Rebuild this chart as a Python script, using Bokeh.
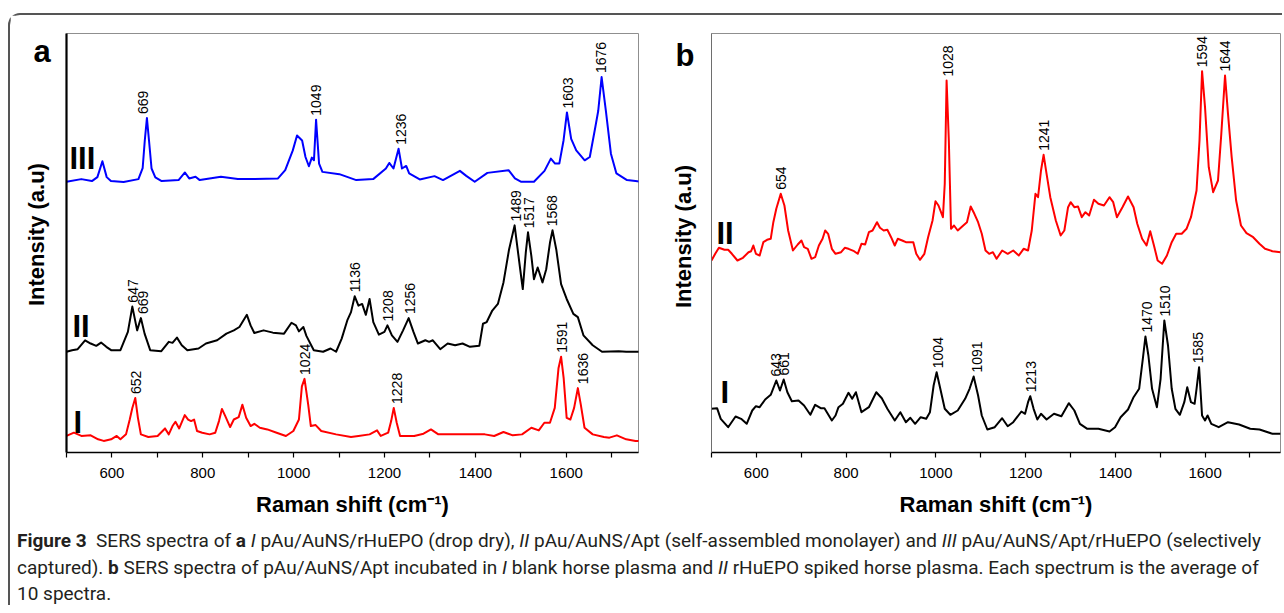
import numpy as np
from bokeh.plotting import figure
from bokeh.models import Range1d, FixedTicker, Div, ColumnDataSource
from bokeh.layouts import row, column
from bokeh.embed import file_html
from bokeh.resources import INLINE
from bokeh.core.properties import value

# ---------------- data (Raman shift in cm-1, intensity in a.u.) ----------------
# Panel a, spectrum III (blue)
a_III_x = [500, 532.6, 555.9, 568, 579, 588.5, 597.8, 625.7, 658.3, 667.6, 672.3, 677, 681.6, 687.2, 695.5, 709.5,
           746.7, 760.7, 770, 784, 793.3, 839.9, 877.1, 914.3, 965.5, 981.4, 998.1, 1007.4, 1018.6, 1026, 1033.5,
           1040, 1044.7, 1049.3, 1055.9, 1063.3, 1100.6, 1137.8, 1175, 1203, 1210.4, 1219.7, 1230.9, 1238.4, 1247.7,
           1254.2, 1277.5, 1310, 1328.7, 1365.9, 1379.9, 1398.5, 1426.4, 1473, 1487, 1501, 1528.9, 1552.1, 1566.1,
           1575.4, 1584.7, 1594, 1601.5, 1610.8, 1622, 1640.6, 1651.8, 1663.9, 1670.4, 1677.8, 1687.2, 1698.3,
           1710.4, 1733.7, 1752.3, 1768.2]
a_III_y = [273.3, 276, 274, 278, 294, 278, 274, 273, 276, 287, 315, 337.7, 315, 286.7, 277.7, 274, 275, 282.7,
           276.7, 278.3, 275, 278.3, 276, 276, 276.7, 285, 305, 320, 315, 298.3, 289, 297.7, 295, 336, 291.7, 283.3,
           281, 275, 276, 286.7, 292.3, 286.7, 306.7, 286.7, 289.3, 281.7, 275.7, 279, 275, 284.3, 279.3, 273.3,
           282.3, 285, 276.7, 273.3, 273.3, 284.3, 296.7, 291.7, 291.7, 315, 343.3, 316.7, 305, 295, 298.3, 328.3,
           345, 379, 345, 301.7, 281.7, 275, 274, 273.3]
a_III_peaks = [669, 1049, 1236, 1603, 1676]

# Panel a, spectrum II (black)
a_II_x = [500, 512.3, 524.6, 540.9, 553.2, 565.5, 576.1, 587.6, 598.2, 618.7,
          635.1, 644.9, 655.5, 663.7, 671.9, 684.2, 708.7, 725.1, 733.3, 743.1,
          753.7, 766, 790.6, 806.9, 831.5, 852, 868.3, 880.6, 897, 905.2,
          913.4, 933.8, 954.3, 978.8, 995.2, 1005, 1011.6, 1021.4, 1028, 1044.3,
          1064.8, 1081.2, 1093.4, 1105.7, 1118, 1126.2, 1134.4, 1142.6, 1150.7, 1158.9,
          1167.1, 1175.3, 1187.6, 1199.8, 1206.4, 1216.2, 1228.5, 1240.8, 1253.1, 1263.7,
          1273.5, 1289.9, 1298.1, 1306.3, 1322.6, 1339, 1355.4, 1371.7, 1388.1, 1408.6,
          1416.7, 1424.9, 1437.2, 1449.5, 1461.8, 1474.1, 1486.3, 1498.6, 1504.3, 1510.9,
          1515.8, 1523.2, 1528.9, 1537.1, 1547.7, 1555.9, 1564.1, 1569.8, 1578, 1588.6,
          1600.9, 1615.6, 1625.5, 1637.8, 1658.2, 1678.7, 1715.5, 1731.9, 1768.7]
a_II_y = [101.7, 103.3, 104.3, 113.3, 110, 107.7, 111, 106.7, 103.3, 103.3,
          121.7, 147.3, 123.3, 135.7, 120, 103.3, 102.3, 111.7, 110.7, 116,
          108.3, 103.3, 105, 110, 113.3, 120, 123.3, 126.7, 139, 128.3,
          120.7, 123.3, 121, 120, 131, 128.3, 122.3, 126.7, 117.7, 103.3,
          101.7, 105, 101.7, 115, 133.3, 141.7, 157.7, 148.3, 150, 139,
          155, 131.7, 119, 121.7, 128.3, 118.3, 111.7, 123.3, 135.7, 121.7,
          110, 113.3, 111.7, 113.3, 104.3, 110, 108.3, 110, 106.7, 107.7,
          130, 131.7, 143.3, 150, 171.7, 205, 229.3, 185, 165, 201.7,
          222.3, 198.3, 175, 186.7, 171.7, 185, 211.7, 224.3, 205, 170,
          155, 140, 136.7, 118.3, 108.3, 101.7, 102.3, 101.7, 101.7]
a_II_peaks = [647, 669, 1136, 1208, 1256, 1489, 1517, 1568]

# Panel a, spectrum I (red)
a_I_x = [500, 516.4, 532.7, 553.2, 569.6, 581.9, 598.2, 610.5, 618.7, 631,
         639.2, 644.9, 651.4, 657.2, 663.7, 680.1, 700.5, 716.9, 725.1, 733.3,
         739.8, 748, 760.3, 767.7, 774.2, 780.8, 787.3, 798.8, 815.1, 827.4,
         835.6, 842.1, 849.5, 860.2, 868.3, 879, 887.2, 895.4, 905.2, 913.4,
         925.6, 942, 962.5, 982.9, 999.3, 1011.6, 1018.1, 1023.9, 1032, 1037.8,
         1048.4, 1060.7, 1093.4, 1126.2, 1142.6, 1167.1, 1183.5, 1191.7, 1208, 1214.6,
         1220.3, 1226.8, 1234.2, 1265.3, 1285.8, 1302.2, 1318.5, 1347.2, 1371.7, 1396.3,
         1420.8, 1441.3, 1461.8, 1482.2, 1502.7, 1523.2, 1539.5, 1551.8, 1564.1, 1574.7,
         1582.9, 1588.6, 1594.3, 1600.9, 1609.1, 1617.3, 1625.5, 1632, 1640.2, 1658.2,
         1682.8, 1695, 1711.4, 1731.9, 1752.3, 1768.7]
a_I_y = [16.7, 20, 16.7, 17.3, 13.3, 11.7, 13.3, 16.7, 13.3, 18.3,
         33.3, 45, 55, 35, 18.3, 15.7, 16.7, 24.3, 18.3, 26.7,
         31, 24.3, 37.7, 33.3, 31.7, 33.3, 21.7, 20, 18.3, 20,
         31.7, 44, 36.7, 25.7, 33.3, 35.7, 48.3, 35, 26.7, 29,
         25, 23.3, 20, 16.7, 21.7, 33.3, 66.7, 74.3, 48.3, 26.7,
         27.7, 21.7, 18.3, 15.7, 16.7, 18.3, 22.3, 16.7, 20, 31.7,
         45, 30, 16.7, 16.7, 19, 23.3, 18.3, 18.3, 18.3, 18.3,
         18.3, 16.7, 20.7, 17.3, 18.3, 25, 22.3, 30, 30, 45,
         85, 96.7, 75, 35, 33.3, 45, 65, 48.3, 25, 18.3,
         15.7, 15, 17.3, 13.3, 11.7, 11.7]
a_I_peaks = [652, 1024, 1228, 1591, 1636]

# Panel b, spectrum II (red)
b_II_x = [500, 508.3, 516.5, 528.9, 537.1, 545.4, 557.8, 570.1, 582.5, 588.3,
          593.2, 599, 607.3, 615.5, 623.8, 632, 637.8, 644.4, 654.3, 662.5,
          670.8, 681.5, 692.2, 700.5, 706.3, 714.5, 722.8, 731, 739.3, 747.5,
          753.3, 759.9, 768.2, 776.4, 788.8, 797, 805.3, 817.7, 825.9, 834.2,
          842.4, 850.7, 858.9, 868.8, 875.4, 883.7, 891.9, 900.2, 908.4, 915,
          924.9, 933.2, 943.1, 949.7, 956.3, 964.5, 974.4, 982.7, 992.6, 999.2,
          1005.8, 1015.7, 1019.8, 1023.9, 1028.9, 1033.8, 1040.4, 1048.7, 1061.1, 1069.3,
          1077.6, 1085.8, 1094.1, 1102.3, 1110.6, 1118.8, 1127.1, 1135.3, 1147.7, 1160.1,
          1172.4, 1184.8, 1195.5, 1205.4, 1213.7, 1221.9, 1227.7, 1234.3, 1240.1, 1246.7,
          1255, 1267.3, 1278.1, 1286.3, 1294.6, 1300.3, 1308.6, 1316.8, 1325.1, 1333.3,
          1341.6, 1352.3, 1362.2, 1374.6, 1386.9, 1395.2, 1403.5, 1415.8, 1428.2, 1440.6,
          1448.8, 1459.6, 1469.5, 1477.7, 1486, 1494.2, 1504.1, 1514.9, 1525.6, 1535.5,
          1547.9, 1558.6, 1568.5, 1580.9, 1587.5, 1593.2, 1599.8, 1608.1, 1617.9, 1628.7,
          1636.1, 1644.4, 1651, 1659.2, 1669.1, 1679.9, 1692.2, 1707.1, 1721.1, 1733.5,
          1750, 1768.2]
b_II_y = [192, 198.7, 204.7, 202.7, 202.7, 198.7, 192, 194.7, 200.3, 201.3,
          207, 198.7, 197, 210.3, 212.7, 213.7, 230.3, 243.7, 258.7, 247,
          222, 202, 208, 212, 205.3, 203.7, 193.7, 195.3, 207, 213.7,
          222, 218.7, 203.7, 198.7, 200.3, 204.7, 203.7, 201.3, 198.7, 208.7,
          208, 220.3, 222, 230.3, 224.7, 222, 222.7, 215.3, 207, 213.7,
          212, 210.3, 210.3, 210.3, 198.7, 192.7, 198.7, 215.3, 232, 251.3,
          247, 235.3, 268.7, 372, 312, 223.7, 227, 222, 227, 230.3,
          246, 238.7, 230.3, 218.7, 202, 198.7, 200.3, 193.7, 202, 198.7,
          202, 197, 203.7, 202, 222, 258.7, 255.3, 282, 297.7, 278.7,
          255.3, 232, 217, 222, 245.3, 250.3, 245.3, 246, 235.3, 240.3,
          237, 252.7, 248.7, 247, 255.3, 250.3, 235.3, 245.3, 256, 245.3,
          228.7, 213.7, 207, 221.3, 207, 192, 188.7, 197, 210.3, 218.7,
          218.7, 223.7, 235.3, 262, 312, 381.3, 345.3, 285.3, 260.3, 272,
          318.7, 377, 338.7, 295.3, 252, 227, 219.3, 215.3, 208.7, 203.7,
          201.3, 200.3]
b_II_peaks = [654, 1028, 1241, 1594, 1644]

# Panel b, spectrum I (black)
b_I_x = [500, 512.4, 520.6, 537.1, 553.6, 566, 578.4, 590.8, 599, 607.3,
         619.6, 632, 644.4, 652.6, 660.9, 669.1, 679, 693.9, 706.3, 720.3,
         731, 743.4, 751.7, 768.2, 776.4, 783, 792.9, 805.3, 813.5, 821.8,
         834.2, 850.7, 867.2, 879.5, 891.9, 908.4, 920.8, 933.2, 943.1, 953.8,
         966.2, 978.5, 986.8, 995, 1001.7, 1009.9, 1019.8, 1032.2, 1048.7, 1065.2,
         1075.1, 1084.2, 1094.1, 1102.3, 1114.7, 1131.2, 1147.7, 1160.1, 1172.4, 1190.6,
         1198.8, 1205.4, 1210.4, 1217.8, 1226.1, 1234.3, 1246.7, 1263.2, 1279.7, 1296.2,
         1308.6, 1321, 1337.5, 1362.2, 1387, 1399.3, 1411.7, 1428.2, 1440.6, 1453,
         1461.2, 1467, 1473.6, 1481.8, 1492.6, 1500.8, 1509.1, 1517.3, 1525.6, 1533.8,
         1543.7, 1553.6, 1560.2, 1568.5, 1576.6, 1580.9, 1586.6, 1593.2, 1599.8, 1605.5,
         1613.8, 1630.3, 1650.9, 1675.7, 1700.5, 1721.3, 1750, 1768.2]
b_I_y = [43.7, 44.3, 33.7, 25.3, 36, 33.7, 28.7, 42, 46.3, 45.3,
         53, 57.7, 72, 62, 73, 60.3, 51.3, 52, 47, 37.7,
         47.7, 44.3, 44.3, 32, 37, 45.3, 48.7, 59.7, 53.7, 60.3,
         40.3, 45.3, 60.3, 54.3, 43.7, 32, 40.3, 30.3, 34.7, 28.7,
         35.3, 33.7, 40.3, 67, 80.3, 63.7, 43.7, 37.7, 42, 53.7,
         63.7, 76, 57, 37, 23, 25.3, 34.3, 26.3, 30.3, 41,
         38.7, 50.3, 56.3, 43.7, 33, 38.7, 33, 38.7, 36.3, 49.3,
         42, 28.7, 23.7, 23.7, 21, 25.3, 35.3, 43, 55.3, 63.7,
         93.7, 116, 97, 63.7, 45.3, 73.7, 132, 107, 63.7, 43.7,
         37.7, 50.3, 65.3, 50.3, 48.7, 63.7, 85.3, 37, 32, 37,
         28.7, 25.3, 30.3, 28, 23.7, 23, 18.7, 18.7]
b_I_peaks = [643, 661, 1004, 1091, 1213, 1470, 1510, 1585]

tick_major = [600, 800, 1000, 1200, 1400, 1600]
tick_minor = [500, 700, 900, 1100, 1300, 1500, 1700]

x_title = "Raman shift (cm\u207b\u00b9)"
y_title = "Intensity (a.u)"

# ---------------- styling ----------------
FONT = "Liberation Sans"
BLUE, BLACK, RED = "#0000ff", "#000000", "#ff0000"
H = 510


def make_panel(width, x_end, y_end, mbt, mbr, mbb, left_color, left_width):
    p = figure(width=width, height=H, x_range=Range1d(500, x_end), y_range=Range1d(0, y_end),
               output_backend="svg", toolbar_location=None, title=None,
               min_border_left=2, min_border_top=mbt, min_border_right=mbr, min_border_bottom=mbb)
    p.xgrid.visible = False
    p.ygrid.visible = False
    p.outline_line_color = "#8f8f8f"
    p.outline_line_width = 1
    p.background_fill_color = "white"
    p.border_fill_color = "white"
    xa = p.xaxis[0]
    xa.ticker = FixedTicker(ticks=tick_major, minor_ticks=tick_minor)
    xa.axis_line_color = "black"
    xa.axis_line_width = 1.5
    xa.major_tick_out = 5
    xa.major_tick_in = 0
    xa.minor_tick_out = 5
    xa.minor_tick_in = 0
    xa.major_tick_line_color = "black"
    xa.minor_tick_line_color = "black"
    xa.major_tick_line_width = 1.2
    xa.minor_tick_line_width = 1.2
    xa.major_label_text_font = FONT
    xa.major_label_text_font_size = "15px"
    xa.major_label_text_color = "black"
    xa.major_label_standoff = 10
    xa.axis_label = x_title
    xa.axis_label_text_font = FONT
    xa.axis_label_text_font_size = "22px"
    xa.axis_label_text_font_style = "bold"
    xa.axis_label_text_color = "black"
    xa.axis_label_standoff = 11
    ya = p.yaxis[0]
    ya.ticker = FixedTicker(ticks=[])
    ya.major_tick_out = 0
    ya.major_tick_in = 0
    ya.minor_tick_out = 0
    ya.minor_tick_in = 0
    ya.major_label_text_font_size = "0px"
    ya.axis_line_color = left_color
    ya.axis_line_width = left_width
    return p


def make_side(width, y_end, mbt, mbb):
    # margin strip left of a panel; its frame spans the same height as the panel frame
    s = figure(width=width, height=H, x_range=Range1d(0, width), y_range=Range1d(0, y_end),
               output_backend="svg", toolbar_location=None, title=None,
               min_border_left=0, min_border_right=0, min_border_top=mbt, min_border_bottom=mbb,
               x_axis_type=None, y_axis_type=None)
    s.outline_line_color = None
    s.background_fill_color = "white"
    s.border_fill_color = "white"
    return s


def side_texts(s, letter, lx, ly, tx, ty):
    s.text(x=[lx], y=[ly], text=[letter], text_font=value(FONT), text_font_size="31px",
           text_font_style="bold", text_color="black", text_align="left", text_baseline="alphabetic")
    s.text(x=[tx], y=[ty], text=[y_title], text_font=value(FONT), text_font_size="22px",
           text_font_style="bold", text_color="black", text_align="center", text_baseline="middle",
           angle=np.pi / 2)


def add_series(p, xs, ys, color, peaks):
    p.line(xs, ys, line_color=color, line_width=2, line_join="round")
    xa = np.array(xs)
    ya = np.array(ys)
    lx, ly, lt = [], [], []
    for pk in peaks:
        m = np.abs(xa - pk) <= 11
        lx.append(pk)
        ly.append(float(ya[m].max()) + 4)
        lt.append(str(pk))
    src = ColumnDataSource(dict(x=lx, y=ly, t=lt))
    p.text(x="x", y="y", text="t", source=src, angle=np.pi / 2, text_align="left",
           text_baseline="middle", text_font=value(FONT), text_font_size="14px", text_color="black")


def numeral(p, x, y, text):
    p.text(x=[x], y=[y], text=[text], text_font=value(FONT), text_font_size="31px",
           text_font_style="bold", text_color="black", text_align="left", text_baseline="alphabetic")


# page layout: root at (8,13), 2px border -> content from (10,15)
# ---------------- panel a ----------------
A_LEFT, A_BOTTOM, A_W, A_XEND = 66, 455, 572, 1759
side_a = make_side(54, 423, 17, 70)
pa = make_panel(594, A_XEND, 423, 17, 20, 70, "black", 2.2)
akx = A_W / (A_XEND - 500)


def ax(px):
    return 500 + (px - A_LEFT) / akx


def ay(py):
    return A_BOTTOM - py


side_texts(side_a, "a", 33 - 10, ay(50), 36 - 10, ay(235))
add_series(pa, a_III_x, a_III_y, BLUE, a_III_peaks)
add_series(pa, a_II_x, a_II_y, BLACK, a_II_peaks)
add_series(pa, a_I_x, a_I_y, RED, a_I_peaks)
numeral(pa, ax(69), ay(158), "III")
numeral(pa, ax(72), ay(328), "II")
numeral(pa, ax(73), ay(425), "I")

# ---------------- panel b ----------------
B_LEFT, B_BOTTOM, B_W, B_XEND = 711, 452, 569, 1768
side_b = make_side(51, 419, 18, 73)
pb = make_panel(573, B_XEND, 419, 18, 2, 73, "#6e6e6e", 1)
bkx = B_W / (B_XEND - 500)


def bx(px):
    return 500 + (px - B_LEFT) / bkx


def by(py):
    return B_BOTTOM - py


side_texts(side_b, "b", 675 - 658, by(55), 683 - 658, by(236))
add_series(pb, b_II_x, b_II_y, RED, b_II_peaks)
add_series(pb, b_I_x, b_I_y, BLACK, b_I_peaks)
numeral(pb, bx(716), by(233), "II")
numeral(pb, bx(720), by(392), "I")

# ---------------- caption ----------------
caption_html = (
    '<div style="font-family: Roboto, \'Noto Sans\', sans-serif; font-size:19px; line-height:26.5px; '
    'color:#231f20; white-space:nowrap; padding-left:7px; padding-top:3px;">'
    '<b>Figure 3</b>&nbsp;&nbsp;SERS spectra of <b>a</b> <i>I</i> pAu/AuNS/rHuEPO (drop dry), <i>II</i> '
    'pAu/AuNS/Apt (self-assembled monolayer) and <i>III</i> pAu/AuNS/Apt/rHuEPO (selectively<br>'
    'captured). <b>b</b> SERS spectra of pAu/AuNS/Apt incubated in <i>I</i> blank horse plasma and '
    '<i>II</i> rHuEPO spiked horse plasma. Each spectrum is the average of<br>'
    '10 spectra.</div>'
)
cap = Div(text=caption_html, width=1272, height=80, margin=(0, 0, 0, 0))

root = column(row(side_a, pa, side_b, pb), cap,
              styles={"border-top": "2px solid #555555", "border-left": "2px solid #555555",
                      "border-top-left-radius": "12px", "margin-top": "13px", "margin-left": "8px"})

with open("out.html", "w") as f:
    f.write(file_html(root, INLINE))
